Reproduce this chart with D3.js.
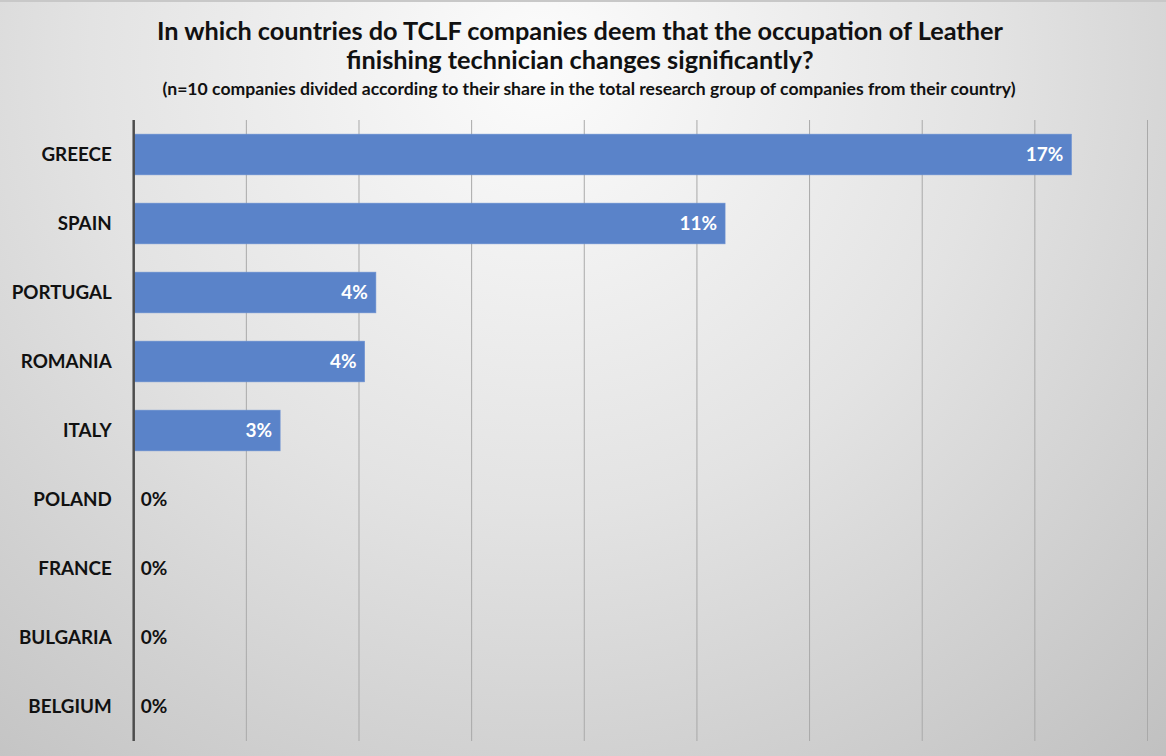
<!DOCTYPE html>
<html><head><meta charset="utf-8">
<script src="https://cdn.jsdelivr.net/npm/d3@7"></script>
<style>html,body{margin:0;padding:0;background:#fff;}svg{display:block;}</style>
</head><body>
<svg id="chart" width="1166" height="756"></svg>
<script>
const countries = ["GREECE","SPAIN","PORTUGAL","ROMANIA","ITALY","POLAND","FRANCE","BULGARIA","BELGIUM"];
const shares = [16.65, 10.5, 4.3, 4.1, 2.6, 0, 0, 0, 0];
const gridTicks = [0,2,4,6,8,10,12,14,16,18];
const titleLines = ["In which countries do TCLF companies deem that the occupation of Leather","finishing technician changes significantly?"];
const subtitle = "(n=10 companies divided according to their share in the total research group of companies from their country)";

const W = 1166, H = 756;
const svg = d3.select("#chart");
const defs = svg.append("defs");
const rg = defs.append("radialGradient").attr("id","bg")
  .attr("gradientUnits","userSpaceOnUse").attr("cx",540).attr("cy",60).attr("r",1000);
rg.append("stop").attr("offset","0%").attr("stop-color","#fcfcfc");
rg.append("stop").attr("offset","45%").attr("stop-color","#e3e3e3");
rg.append("stop").attr("offset","100%").attr("stop-color","#bcbcbc");
svg.append("rect").attr("width",W).attr("height",H).attr("fill","url(#bg)");
svg.append("rect").attr("x",0).attr("y",0).attr("width",W).attr("height",2).attr("fill","#c8c8c8");

const font = "Lato, 'Open Sans', sans-serif";
const m = {left:133.7, right:W-1147.5, top:120, bottom:H-741};
const x = d3.scaleLinear().domain([0,18]).range([m.left, W-m.right]);
const y = d3.scaleBand().domain(countries).range([m.top, H-m.bottom]).paddingInner(0.41).paddingOuter(0.205);

// gridlines
svg.append("g").selectAll("line").data(gridTicks.slice(1)).join("line")
  .attr("x1",d=>x(d)).attr("x2",d=>x(d)).attr("y1",m.top).attr("y2",H-m.bottom)
  .attr("stroke","#a9a9a9").attr("stroke-width",1);

// bars
const data = countries.map((c,i)=>({c, v:shares[i]}));
svg.append("g").selectAll("rect").data(data.filter(d=>d.v>0)).join("rect")
  .attr("x",x(0)).attr("y",d=>y(d.c)).attr("width",d=>x(d.v)-x(0)).attr("height",y.bandwidth())
  .attr("fill","#5a83c9").attr("stroke","#6d92d2").attr("stroke-width",0.6);

// y axis line
svg.append("line").attr("x1",x(0)).attr("x2",x(0)).attr("y1",m.top).attr("y2",H-m.bottom)
  .attr("stroke","#4d4d4d").attr("stroke-width",2.5);

// y axis labels
const yAxis = d3.axisLeft(y).tickSize(0).tickPadding(0);
const ga = svg.append("g").attr("transform",`translate(${x(0)-22},0)`).call(yAxis);
ga.select(".domain").remove();
ga.selectAll("text").attr("font-family",font).attr("font-weight","bold").attr("font-size",18.8).attr("fill","#111").attr("dy","0.35em");

// value labels
svg.append("g").selectAll("text").data(data).join("text")
  .attr("x",d=>d.v>0 ? x(d.v)-8 : x(0)+7)
  .attr("y",d=>y(d.c)+y.bandwidth()/2)
  .attr("dy","0.36em")
  .attr("text-anchor",d=>d.v>0?"end":"start")
  .attr("font-family",font).attr("font-weight","bold").attr("font-size",19)
  .attr("fill",d=>d.v>0?"#ffffff":"#111")
  .text(d=>Math.round(d.v)+"%");

// title
svg.append("g").selectAll("text").data(titleLines).join("text")
  .attr("x",580).attr("y",(d,i)=>40+i*29)
  .attr("text-anchor","middle").attr("font-family",font).attr("font-weight","bold")
  .attr("font-size",25.3).attr("fill","#111").text(d=>d);
svg.append("text").attr("x",589).attr("y",95).attr("text-anchor","middle")
  .attr("font-family",font).attr("font-weight","bold").attr("font-size",17.6).attr("fill","#111").text(subtitle);
</script>
</body></html>
